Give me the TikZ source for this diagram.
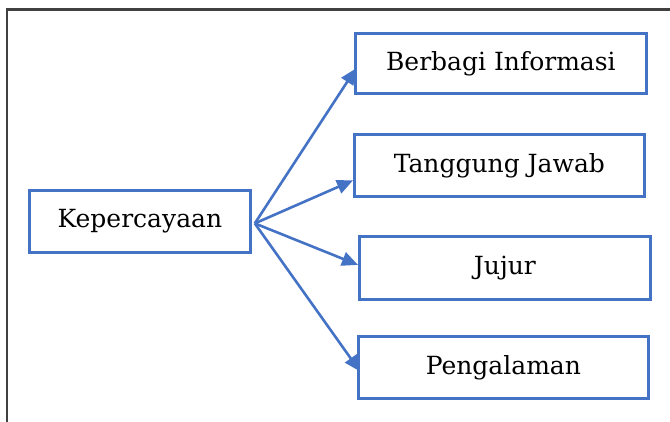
\documentclass[tikz,border=0pt]{standalone}
\usepackage{fontspec}
\setmainfont{DejaVu Serif}
\usetikzlibrary{arrows.meta}
\definecolor{boxblue}{HTML}{4472C4}
\definecolor{framegray}{HTML}{404040}
\tikzset{
  box/.style={draw=boxblue, line width=2.8pt, inner sep=0pt, anchor=north west,
    font=\fontsize{25}{29}\selectfont, align=center},
  link/.style={draw=boxblue, line width=2.6pt, -{Triangle[length=16pt, width=14pt]}},
}
\begin{document}
\begin{tikzpicture}[x=1pt, y=-1pt]
  \useasboundingbox (0,0) rectangle (670,422);
  % outer frame, running past the page edge on the right and bottom
  \draw[framegray, line width=2.6pt] (7,440) -- (7,9.5) -- (690,9.5);

  % boxes
  \node[box, minimum width=221pt, minimum height=62pt] (k) at (28,189) {Kepercayaan};
  \node[box, minimum width=291pt, minimum height=60pt] (b1) at (354,32) {Berbagi Informasi};
  \node[box, minimum width=290pt, minimum height=62pt] (b2) at (353,133) {Tanggung Jawab};
  \node[box, minimum width=291pt, minimum height=63pt] (b3) at (358,235) {Jujur};
  \node[box, minimum width=290pt, minimum height=62pt] (b4) at (357,335) {Pengalaman};

  % connectors fanning out from the right side of the source box
  \coordinate (src) at ([xshift=3pt, yshift=-2pt]k.east);
  \draw[link] (src) -- ([xshift=2pt, yshift=-5pt]b1.west);
  \draw[link] (src) -- ([yshift=-15pt]b2.west);
  \draw[link] (src) -- ([yshift=3pt]b3.west);
  \draw[link] (src) -- ([xshift=3pt, yshift=-4pt]b4.west);
\end{tikzpicture}
\end{document}
